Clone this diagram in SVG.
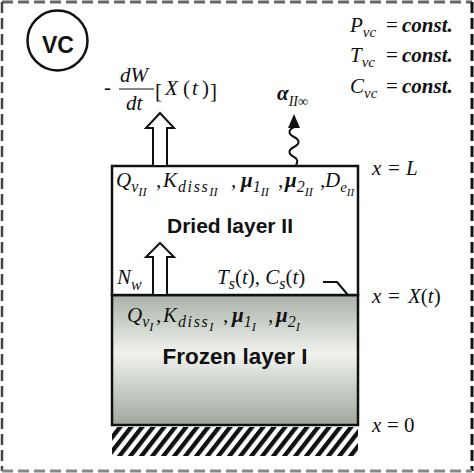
<svg xmlns="http://www.w3.org/2000/svg" width="474" height="473" viewBox="0 0 474 473">
<style>
.m{font-family:"Liberation Serif","DejaVu Serif",serif;font-style:italic;font-size:21px;fill:#111}
.u{font-style:normal}
.b{font-weight:bold}
.s{font-size:16px}
.ss{font-size:12.5px}
.ls{letter-spacing:1.6px}
.lbl{font-family:"Liberation Sans",Arial,sans-serif;font-weight:bold;fill:#111;text-anchor:middle}
.box{stroke:#111;stroke-width:2.5}
.arr{fill:#fff;stroke:#111;stroke-width:2}
</style>
<defs>
<linearGradient id="frz" x1="0" y1="0" x2="0" y2="1">
<stop offset="0" stop-color="#a9b2a8"/>
<stop offset="0.45" stop-color="#f0f2ee"/>
<stop offset="1" stop-color="#9fa89d"/>
</linearGradient>
<pattern id="hatch" patternUnits="userSpaceOnUse" x="0" y="0" width="11" height="1000" patternTransform="skewX(-38)">
<rect x="0" y="0" width="5.5" height="1000" fill="#111"/>
</pattern>
</defs>
<rect width="474" height="473" fill="#fff"/>
<g id="frame" fill="none" stroke-dasharray="11 5">
<line x1="2" y1="2" x2="472" y2="2" stroke="#666" stroke-width="3"/>
<line x1="2" y1="2" x2="2" y2="471" stroke="#444" stroke-width="2.5"/>
<line x1="472" y1="2" x2="472" y2="471" stroke="#111" stroke-width="3"/>
<line x1="2" y1="471" x2="472" y2="471" stroke="#888" stroke-width="3"/>
</g>
<g id="vc">
<circle cx="57.5" cy="40.5" r="30" fill="none" stroke="#111" stroke-width="2.5"/>
<text class="lbl" x="58" y="53" font-size="23">VC</text>
</g>
<g id="conditions">
<text class="m" x="350" y="32">P<tspan font-size="15" y="37">vc</tspan><tspan class="u" x="386" y="32">=</tspan><tspan class="b" x="402">const.</tspan></text>
<text class="m" x="350" y="62">T<tspan font-size="15" y="67">vc</tspan><tspan class="u" x="386" y="62">=</tspan><tspan class="b" x="402">const.</tspan></text>
<text class="m" x="350" y="93">C<tspan font-size="15" y="98">vc</tspan><tspan class="u" x="386" y="93">=</tspan><tspan class="b" x="402">const.</tspan></text>
</g>
<g id="hatching">
<rect x="112" y="427" width="246" height="29" fill="url(#hatch)"/>
</g>
<g id="frozen-layer">
<rect x="112" y="295" width="246" height="130" fill="url(#frz)" class="box"/>
<text class="m" y="322"><tspan x="127">Q</tspan><tspan class="s" y="327">v</tspan><tspan class="ss" y="331">I</tspan><tspan x="156" y="322">,</tspan><tspan x="163">K</tspan><tspan class="s ls" x="178" y="327">diss</tspan><tspan class="ss" y="331">I</tspan><tspan x="223" y="322">,</tspan><tspan class="b" x="232">μ</tspan><tspan class="s" y="327">1</tspan><tspan class="ss" y="331">I</tspan><tspan x="268" y="322">,</tspan><tspan class="b" x="276">μ</tspan><tspan class="s" y="327">2</tspan><tspan class="ss" y="331">I</tspan></text>
<text class="lbl" x="235" y="364" font-size="22.5">Frozen layer I</text>
</g>
<g id="dried-layer">
<rect x="112" y="166" width="246" height="129" fill="#fff" class="box"/>
<text class="m" y="187"><tspan x="116">Q</tspan><tspan class="s" y="192">v</tspan><tspan class="ss" y="196">II</tspan><tspan x="156" y="187">,</tspan><tspan x="163">K</tspan><tspan class="s ls" x="178" y="192">diss</tspan><tspan class="ss" y="196">II</tspan><tspan x="231" y="187">,</tspan><tspan class="b" x="241">μ</tspan><tspan class="s" y="192">1</tspan><tspan class="ss" y="196">II</tspan><tspan x="278" y="187">,</tspan><tspan class="b" x="285">μ</tspan><tspan class="s" y="192">2</tspan><tspan class="ss" y="196">II</tspan><tspan x="320" y="187">,</tspan><tspan x="325">D</tspan><tspan font-size="15" y="192">e</tspan><tspan font-size="11" y="196">II</tspan></text>
<text class="lbl" x="230" y="233" font-size="21">Dried layer II</text>
<text class="m" x="117" y="284">N<tspan class="s" y="290">w</tspan></text>
<text class="m" x="217" y="284" font-size="20">T<tspan class="s" y="289">s</tspan><tspan class="u" y="284">(</tspan>t<tspan class="u">),</tspan> C<tspan class="s" y="289">s</tspan><tspan class="u" y="284">(</tspan>t<tspan class="u">)</tspan></text>
</g>
<g id="positions">
<text class="m" x="372" y="175" font-size="20">x<tspan class="u" x="388">=</tspan><tspan x="406">L</tspan></text>
<text class="m" x="372" y="303" font-size="20">x<tspan class="u" x="388">=</tspan><tspan x="408">X</tspan><tspan class="u">(</tspan>t<tspan class="u">)</tspan></text>
<text class="m" x="372" y="432" font-size="20">x<tspan class="u" x="387">=</tspan><tspan class="u" x="404">0</tspan></text>
</g>
<g id="flux-label">
<text class="m u" x="104" y="94" font-size="18">-</text>
<text class="m" x="120" y="82" font-size="19">dW</text>
<line x1="119" y1="89" x2="154" y2="89" stroke="#111" stroke-width="1.2"/>
<text class="m" x="126" y="110" font-size="19">dt</text>
<text class="m u" x="155" y="98" font-size="34">[</text>
<text class="m" x="165" y="95">X<tspan class="u" x="183">(</tspan><tspan x="192">t</tspan><tspan class="u" x="202">)</tspan></text>
<text class="m u" x="210" y="98" font-size="34">]</text>
</g>
<g id="alpha-label">
<text class="m b" x="277" y="100" font-size="23">α<tspan font-size="14" font-weight="normal" y="106">II∞</tspan></text>
</g>
<g id="connectors">
<polygon class="arr" points="153,166 153,128 146,128 160,113 174,128 167,128 167,166"/>
<polygon class="arr" points="153,295 153,257 146,257 160,243 174,257 167,257 167,295"/>
<polygon points="294,114 288,128 300,128" fill="#111"/>
<path d="M294,127 c-6,3 -6,7 0,10 c6,3 6,7 0,10 c-6,3 -6,7 0,10 c4,2 4,5 2,8" fill="none" stroke="#111" stroke-width="2"/>
<polyline points="323,282 337,282 348,295" fill="none" stroke="#111" stroke-width="2"/>
</g>
</svg>
